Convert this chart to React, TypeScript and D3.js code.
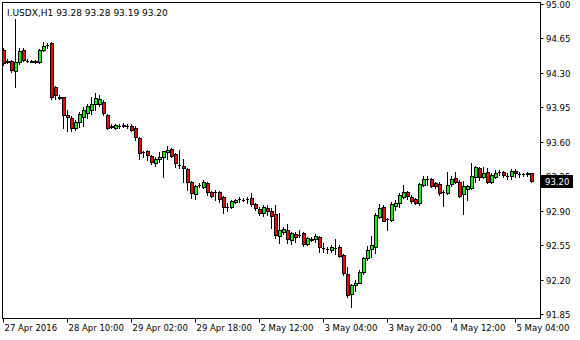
import React from "react";
import * as d3 from "d3";

const symbolTitle = "I.USDX,H1";
const headerValues = ["93.28", "93.28", "93.19", "93.20"];

const opens = [
  94.53, 94.42, 94.42, 94.32, 94.41, 94.53, 94.42, 94.42, 94.41, 94.41,
  94.53, 94.58, 94.60, 94.16, 94.05, 94.05, 93.87, 93.84, 93.74, 93.80,
  93.85, 93.89, 93.92, 93.98, 93.98, 94.00, 93.87, 93.76, 93.74, 93.76,
  93.77, 93.76, 93.76, 93.74, 93.64, 93.50, 93.51, 93.46, 93.38, 93.42,
  93.45, 93.50, 93.53, 93.48, 93.36, 93.35, 93.32, 93.19, 93.07, 93.16,
  93.14, 93.18, 93.09, 93.09, 93.09, 93.04, 92.94, 92.94, 92.99, 93.02,
  93.01, 93.02, 93.03, 92.97, 92.92, 92.88, 92.93, 92.90, 92.87, 92.64,
  92.68, 92.70, 92.60, 92.66, 92.65, 92.67, 92.56, 92.60, 92.61, 92.63,
  92.52, 92.51, 92.50, 92.52, 92.53, 92.45, 92.26, 92.05, 92.14, 92.17,
  92.28, 92.42, 92.51, 92.53, 92.84, 92.94, 92.82, 92.81, 92.95, 92.98,
  93.04, 93.09, 93.04, 93.02, 92.98, 93.16, 93.22, 93.22, 93.18, 93.17,
  93.09, 93.08, 93.17, 93.23, 93.19, 93.07, 93.12, 93.13, 93.24, 93.33,
  93.24, 93.29, 93.19, 93.24, 93.29, 93.29, 93.25, 93.25, 93.30, 93.27,
  93.27, 93.27, 93.28,
];
const highs = [
  94.55, 94.44, 94.43, 94.85, 94.55, 94.55, 94.44, 94.43, 94.43, 94.54,
  94.61, 94.60, 94.61, 94.17, 94.08, 94.06, 93.92, 93.86, 93.82, 93.90,
  93.95, 93.98, 94.06, 94.10, 94.08, 94.02, 93.88, 93.78, 93.78, 93.78,
  93.79, 93.78, 93.78, 93.76, 93.65, 93.51, 93.52, 93.47, 93.45, 93.50,
  93.51, 93.56, 93.54, 93.49, 93.52, 93.43, 93.33, 93.20, 93.16, 93.18,
  93.21, 93.19, 93.10, 93.11, 93.10, 93.05, 92.98, 93.01, 93.02, 93.04,
  93.03, 93.04, 93.08, 92.98, 92.94, 92.96, 92.96, 92.93, 92.96, 92.88,
  92.73, 92.76, 92.68, 92.68, 92.70, 92.68, 92.63, 92.63, 92.66, 92.64,
  92.57, 92.53, 92.55, 92.61, 92.55, 92.46, 92.33, 92.15, 92.20, 92.30,
  92.43, 92.54, 92.64, 92.88, 92.97, 92.96, 92.83, 92.99, 93.01, 93.08,
  93.16, 93.10, 93.06, 93.03, 93.18, 93.25, 93.25, 93.23, 93.19, 93.19,
  93.11, 93.29, 93.25, 93.29, 93.21, 93.20, 93.16, 93.38, 93.35, 93.34,
  93.34, 93.33, 93.28, 93.31, 93.31, 93.30, 93.28, 93.32, 93.32, 93.29,
  93.28, 93.29, 93.28,
];
const lows = [
  94.38, 94.40, 94.31, 94.16, 94.39, 94.42, 94.41, 94.41, 94.40, 94.40,
  94.52, 94.55, 94.03, 94.03, 94.03, 93.74, 93.71, 93.71, 93.72, 93.75,
  93.76, 93.84, 93.88, 93.92, 93.96, 93.87, 93.73, 93.74, 93.73, 93.74,
  93.75, 93.74, 93.71, 93.62, 93.42, 93.45, 93.41, 93.37, 93.35, 93.39,
  93.24, 93.43, 93.45, 93.34, 93.33, 93.19, 93.11, 93.03, 93.02, 93.14,
  93.13, 93.06, 93.04, 93.01, 92.99, 92.88, 92.90, 92.93, 92.98, 92.99,
  93.00, 92.98, 92.95, 92.91, 92.86, 92.85, 92.86, 92.72, 92.62, 92.57,
  92.66, 92.57, 92.56, 92.58, 92.63, 92.54, 92.55, 92.59, 92.58, 92.48,
  92.48, 92.47, 92.48, 92.46, 92.43, 92.25, 92.02, 91.92, 92.08, 92.16,
  92.26, 92.40, 92.43, 92.47, 92.83, 92.79, 92.70, 92.80, 92.91, 92.94,
  93.03, 93.02, 92.98, 92.97, 92.96, 93.15, 93.16, 93.14, 93.13, 93.06,
  92.95, 93.07, 93.15, 93.18, 93.04, 92.87, 93.01, 93.12, 93.19, 93.21,
  93.23, 93.18, 93.18, 93.23, 93.26, 93.24, 93.22, 93.22, 93.24, 93.24,
  93.25, 93.25, 93.19,
];
const closes = [
  94.40, 94.41, 94.33, 94.41, 94.52, 94.43, 94.42, 94.41, 94.42, 94.53,
  94.57, 94.58, 94.05, 94.08, 94.04, 93.87, 93.85, 93.74, 93.80, 93.88,
  93.92, 93.96, 93.98, 94.04, 94.03, 93.89, 93.74, 93.75, 93.77, 93.76,
  93.76, 93.76, 93.72, 93.65, 93.49, 93.50, 93.47, 93.39, 93.43, 93.45,
  93.51, 93.52, 93.46, 93.38, 93.36, 93.33, 93.19, 93.08, 93.15, 93.16,
  93.19, 93.09, 93.05, 93.09, 93.02, 92.94, 92.94, 93.00, 93.01, 93.02,
  93.01, 93.02, 92.97, 92.93, 92.88, 92.94, 92.90, 92.85, 92.65, 92.70,
  92.71, 92.61, 92.67, 92.63, 92.65, 92.56, 92.62, 92.61, 92.64, 92.53,
  92.52, 92.51, 92.53, 92.52, 92.44, 92.27, 92.04, 92.14, 92.17, 92.28,
  92.42, 92.50, 92.55, 92.86, 92.93, 92.80, 92.82, 92.97, 92.98, 93.06,
  93.09, 93.05, 93.00, 92.98, 93.17, 93.22, 93.22, 93.15, 93.15, 93.08,
  93.09, 93.16, 93.22, 93.19, 93.05, 93.15, 93.15, 93.25, 93.34, 93.24,
  93.28, 93.19, 93.26, 93.28, 93.29, 93.26, 93.25, 93.30, 93.28, 93.27,
  93.27, 93.28, 93.20,
];

const priceTicks = [95.0, 94.65, 94.3, 93.95, 93.6, 93.25, 92.9, 92.55, 92.2, 91.85];
const lastPrice = 93.2;
const timeLabels = [
  "27 Apr 2016", "28 Apr 10:00", "29 Apr 02:00", "29 Apr 18:00", "2 May 12:00",
  "3 May 04:00", "3 May 20:00", "4 May 12:00", "5 May 04:00",
];
const barsPerTimeLabel = 16;

const W = 580, H = 340;
const frame = { left: 2.5, top: 2.5, right: 540.5, bottom: 318.5 };
const FONT = "'DejaVu Sans', Verdana, sans-serif";
const FS = 8.5;
const UP = "#00ff00";
const DOWN = "#ff0000";

export default function App() {
  const n = opens.length;
  const x = d3.scaleLinear().domain([0, n - 1]).range([3.5, 3.5 + 4 * (n - 1)]);
  const y = d3.scaleLinear().domain([91.85, 95.0]).range([314, 4]);
  const py = (v: number) => Math.round(y(v));

  const candles = d3.range(n).map((i) => {
    const o = opens[i], c = closes[i];
    const cx = x(i);
    const top = py(Math.max(o, c)) + 0.5;
    const bot = py(Math.min(o, c)) + 0.5;
    const fill = c > o ? UP : c < o ? DOWN : "#000";
    const isDoji = bot - top < 1;
    return (
      <g key={i}>
        <line x1={cx} x2={cx} y1={py(highs[i])} y2={py(lows[i]) + 1} stroke="#000" strokeWidth={1} />
        {isDoji ? (
          <line x1={cx - 1.5} x2={cx + 1.5} y1={top} y2={top} stroke="#000" strokeWidth={1} />
        ) : (
          <rect x={cx - 1} y={top} width={3} height={bot - top} fill={fill} stroke="#000" strokeWidth={1} shapeRendering="crispEdges" />
        )}
      </g>
    );
  });

  const lastY = py(lastPrice);

  return (
    <svg width={W} height={H} style={{ position: "absolute", left: 0, top: 0, background: "#fff" }} fontFamily={FONT}>
      <rect x={0} y={0} width={W} height={H} fill="#fff" />
      <g>{candles}</g>
      <rect x={frame.left} y={frame.top} width={frame.right - frame.left} height={frame.bottom - frame.top} fill="none" stroke="#000" strokeWidth={1} />
      <text x={7} y={16} fontSize={FS + 0.5} fill="#000">
        {symbolTitle + "  " + headerValues.join(" ")}
      </text>
      {priceTicks.map((p) => {
        const ty = py(p) + 0.5;
        return (
          <g key={p}>
            <line x1={frame.right} x2={frame.right + 3} y1={ty} y2={ty} stroke="#000" />
            <text x={546} y={ty + 3.5} fontSize={FS} fill="#000">{p.toFixed(2)}</text>
          </g>
        );
      })}
      <rect x={541} y={lastY - 6} width={32} height={13} fill="#000" />
      <text x={545} y={lastY + 4} fontSize={FS} fill="#fff">{lastPrice.toFixed(2)}</text>
      {timeLabels.map((lab, k) => {
        const tx = Math.floor(x(k * barsPerTimeLabel)) + 0.5;
        return (
          <g key={lab}>
            <line x1={tx} x2={tx} y1={frame.bottom} y2={frame.bottom + 4} stroke="#000" />
            <text x={tx + 1} y={331} fontSize={FS} fill="#000">{lab}</text>
          </g>
        );
      })}
    </svg>
  );
}
